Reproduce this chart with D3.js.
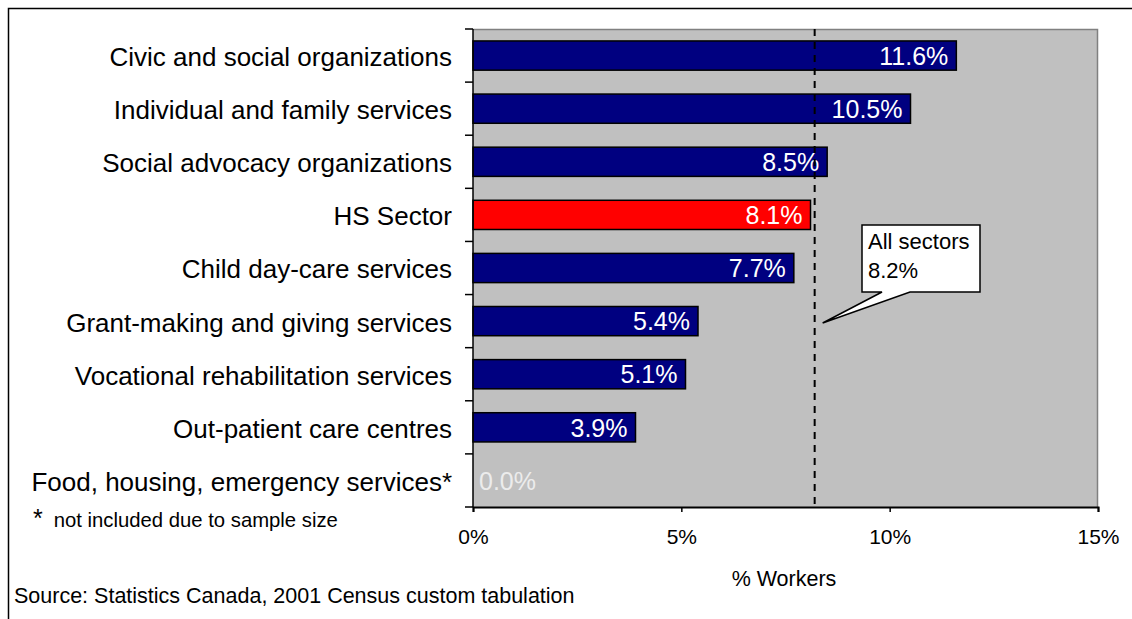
<!DOCTYPE html>
<html>
<head>
<meta charset="utf-8">
<script src="https://cdn.jsdelivr.net/npm/d3@7"></script>
<style>
  html, body { margin: 0; padding: 0; background: #fff; }
  svg { display: block; font-family: "Liberation Sans", Arial, sans-serif; }
</style>
</head>
<body>
<svg id="chart" width="1132" height="619"></svg>
<script>
// Share of workers by industry group
const categories = [
  "Civic and social organizations",
  "Individual and family services",
  "Social advocacy organizations",
  "HS Sector",
  "Child day-care services",
  "Grant-making and giving services",
  "Vocational rehabilitation services",
  "Out-patient care centres",
  "Food, housing, emergency services*"
];
const values = [11.6, 10.5, 8.5, 8.1, 7.7, 5.4, 5.1, 3.9, 0.0];
const highlighted = ["HS Sector"];
const allSectorsValue = 8.2;
const xTicks = [0, 5, 10, 15];

const svg = d3.select("#chart");
const plot = { left: 473, right: 1098, top: 29, bottom: 507 };

// Outer frame
svg.append("path")
  .attr("d", "M8.5,619 V8.5 H1132")
  .attr("fill", "none").attr("stroke", "#000").attr("stroke-width", 1.5);

const x = d3.scaleLinear().domain([0, 15]).range([plot.left, plot.right]);
const y = d3.scaleBand().domain(categories).range([plot.top, plot.bottom])
  .paddingInner(0.45).paddingOuter(0.225);

// Plot background
svg.append("rect")
  .attr("x", plot.left).attr("y", plot.top)
  .attr("width", plot.right - plot.left).attr("height", plot.bottom - plot.top)
  .attr("fill", "#c0c0c0");
svg.append("path")
  .attr("d", `M${plot.left},${plot.top + 0.5} H${plot.right - 0.5} V${plot.bottom}`)
  .attr("fill", "none").attr("stroke", "#808080").attr("stroke-width", 1.5);

// Bars
svg.append("g").selectAll("rect").data(categories).join("rect")
  .attr("x", x(0))
  .attr("y", d => y(d))
  .attr("width", (d, i) => x(values[i]) - x(0))
  .attr("height", y.bandwidth())
  .attr("fill", d => highlighted.includes(d) ? "#ff0000" : "#000080")
  .attr("stroke", (d, i) => values[i] > 0 ? "#000" : "none")
  .attr("stroke-width", 1.5);

// Value labels
svg.append("g").selectAll("text").data(categories).join("text")
  .attr("x", (d, i) => values[i] > 0 ? x(values[i]) - 8 : x(0) + 6)
  .attr("y", d => y(d) + y.bandwidth() / 2)
  .attr("dy", "0.37em")
  .attr("text-anchor", (d, i) => values[i] > 0 ? "end" : "start")
  .attr("font-size", 25)
  .attr("fill", (d, i) => values[i] > 0 ? "#fff" : "#ececec")
  .text((d, i) => values[i].toFixed(1) + "%");

// All sectors reference line
svg.append("line")
  .attr("x1", x(allSectorsValue)).attr("x2", x(allSectorsValue))
  .attr("y1", plot.top).attr("y2", plot.bottom)
  .attr("stroke", "#000").attr("stroke-width", 2)
  .attr("stroke-dasharray", "7,6");

// Callout
const box = { x: 862, y: 225, w: 118, h: 67 };
const tip = [x(allSectorsValue) + 8, 323];
svg.append("path")
  .attr("d", `M${box.x},${box.y} H${box.x + box.w} V${box.y + box.h} H${box.x + 48} L${tip[0]},${tip[1]} L${box.x + 20},${box.y + box.h} H${box.x} Z`)
  .attr("fill", "#fff").attr("stroke", "#000").attr("stroke-width", 1.5);
svg.append("text").attr("x", box.x + 6).attr("y", box.y + 24)
  .attr("font-size", 22).text("All sectors");
svg.append("text").attr("x", box.x + 6).attr("y", box.y + 53)
  .attr("font-size", 22).text(allSectorsValue.toFixed(1) + "%");

// Y axis
const yAxis = svg.append("g").attr("transform", `translate(${plot.left},0)`);
yAxis.append("line").attr("x1", 0).attr("x2", 0)
  .attr("y1", plot.top).attr("y2", plot.bottom)
  .attr("stroke", "#000").attr("stroke-width", 1.5);
const bounds = categories.map(d => y(d) - y.step() * y.paddingInner() / 2);
bounds.push(plot.bottom);
bounds[0] = plot.top;
yAxis.selectAll("line.tick").data(bounds).join("line")
  .attr("class", "tick")
  .attr("x1", -8).attr("x2", 0)
  .attr("y1", d => d).attr("y2", d => d)
  .attr("stroke", "#000").attr("stroke-width", 1.5);
yAxis.selectAll("text").data(categories).join("text")
  .attr("x", -21)
  .attr("y", d => y(d) + y.bandwidth() / 2)
  .attr("dy", "0.4em")
  .attr("text-anchor", "end")
  .attr("font-size", 26)
  .attr("fill", "#000")
  .text(d => d);

// X axis
const xAxis = svg.append("g").attr("transform", `translate(0,${plot.bottom})`)
  .call(d3.axisBottom(x).tickValues(xTicks).tickSize(5).tickPadding(17)
    .tickFormat(d => d + "%"));
xAxis.select(".domain").attr("stroke", "#000").attr("stroke-width", 2);
xAxis.selectAll(".tick line").attr("stroke", "#000").attr("stroke-width", 1.5);
xAxis.selectAll(".tick text")
  .attr("font-size", 21).attr("fill", "#000")
  .attr("font-family", "Liberation Sans, Arial, sans-serif");

svg.append("text").attr("x", 784).attr("y", 586)
  .attr("text-anchor", "middle").attr("font-size", 21.5).text("% Workers");

// Footnote and source
const note = svg.append("text").attr("x", 33).attr("y", 527);
note.append("tspan").attr("font-size", 25).text("*");
note.append("tspan").attr("font-size", 20.3).attr("dx", 11).text("not included due to sample size");

svg.append("text").attr("x", 14).attr("y", 603)
  .attr("font-size", 21.5).text("Source: Statistics Canada, 2001 Census custom tabulation");
</script>
</body>
</html>
